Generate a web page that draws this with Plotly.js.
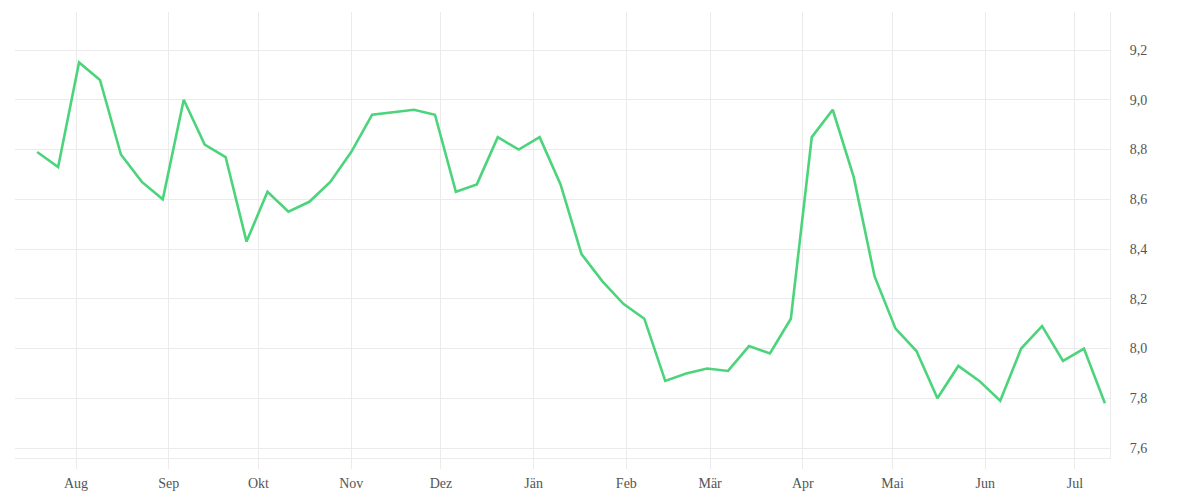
<!DOCTYPE html>
<html>
<head>
<meta charset="utf-8">
<script src="https://cdn.plot.ly/plotly-3.0.1.min.js"></script>
<style>
  html, body { margin: 0; padding: 0; background: #fff; }
  #chart { width: 1200px; height: 500px; }
</style>
</head>
<body>
<div id="chart"></div>
<script>
// weekly observations
const weeks = [
  '2022-07-19', '2022-07-26', '2022-08-02', '2022-08-09', '2022-08-16', '2022-08-23', '2022-08-30',
  '2022-09-06', '2022-09-13', '2022-09-20', '2022-09-27', '2022-10-04', '2022-10-11', '2022-10-18',
  '2022-10-25', '2022-11-01', '2022-11-08', '2022-11-15', '2022-11-22', '2022-11-29', '2022-12-06',
  '2022-12-13', '2022-12-20', '2022-12-27', '2023-01-03', '2023-01-10', '2023-01-17', '2023-01-24',
  '2023-01-31', '2023-02-07', '2023-02-14', '2023-02-21', '2023-02-28', '2023-03-07', '2023-03-14',
  '2023-03-21', '2023-03-28', '2023-04-04', '2023-04-11', '2023-04-18', '2023-04-25', '2023-05-02',
  '2023-05-09', '2023-05-16', '2023-05-23', '2023-05-30', '2023-06-06', '2023-06-13', '2023-06-20',
  '2023-06-27', '2023-07-04', '2023-07-11'
];

const values = [
  8.79, 8.73, 9.15, 9.08, 8.78, 8.67, 8.60,
  9.00, 8.82, 8.77, 8.43, 8.63, 8.55, 8.59,
  8.67, 8.79, 8.94, 8.95, 8.96, 8.94, 8.63,
  8.66, 8.85, 8.80, 8.85, 8.66, 8.38, 8.27,
  8.18, 8.12, 7.87, 7.90, 7.92, 7.91, 8.01,
  7.98, 8.12, 8.85, 8.96, 8.69, 8.29, 8.08,
  7.99, 7.80, 7.93, 7.87, 7.79, 8.00, 8.09,
  7.95, 8.00, 7.78
];

const monthTicks = [
  '2022-08-01', '2022-09-01', '2022-10-01', '2022-11-01', '2022-12-01', '2023-01-01',
  '2023-02-01', '2023-03-01', '2023-04-01', '2023-05-01', '2023-06-01', '2023-07-01'
];
const monthLabels = ['Aug', 'Sep', 'Okt', 'Nov', 'Dez', 'Jän', 'Feb', 'Mär', 'Apr', 'Mai', 'Jun', 'Jul'];

const yTicks = [7.6, 7.8, 8.0, 8.2, 8.4, 8.6, 8.8, 9.0, 9.2];

const gridCol = '#ebebeb';
const tickFont = { family: 'Liberation Serif, DejaVu Serif, serif', size: 14, color: '#555' };

Plotly.newPlot('chart', [{
  x: weeks,
  y: values,
  type: 'scatter',
  mode: 'lines',
  line: { color: '#4cd47c', width: 2.6 },
  hoverinfo: 'x+y'
}], {
  width: 1200,
  height: 500,
  margin: { l: 15, r: 90, t: 12, b: 42 },
  paper_bgcolor: '#fff',
  plot_bgcolor: '#fff',
  separators: ',.',
  showlegend: false,
  xaxis: {
    type: 'date',
    range: ['2022-07-11 14:00', '2023-07-12 17:00'],
    tickvals: monthTicks,
    ticktext: monthLabels,
    showgrid: true,
    gridcolor: gridCol,
    gridwidth: 1,
    showline: true,
    linecolor: gridCol,
    linewidth: 1,
    ticks: 'outside',
    ticklen: 10,
    tickcolor: gridCol,
    ticklabelstandoff: 2,
    tickfont: tickFont,
    zeroline: false
  },
  yaxis: {
    side: 'right',
    range: [7.56, 9.353],
    tickvals: yTicks,
    tickformat: '.1f',
    showgrid: true,
    gridcolor: gridCol,
    gridwidth: 1,
    showline: true,
    linecolor: gridCol,
    linewidth: 1,
    ticks: '',
    ticklabelstandoff: 16,
    tickfont: tickFont,
    zeroline: false
  }
}, { displayModeBar: false, staticPlot: true });
</script>
</body>
</html>
